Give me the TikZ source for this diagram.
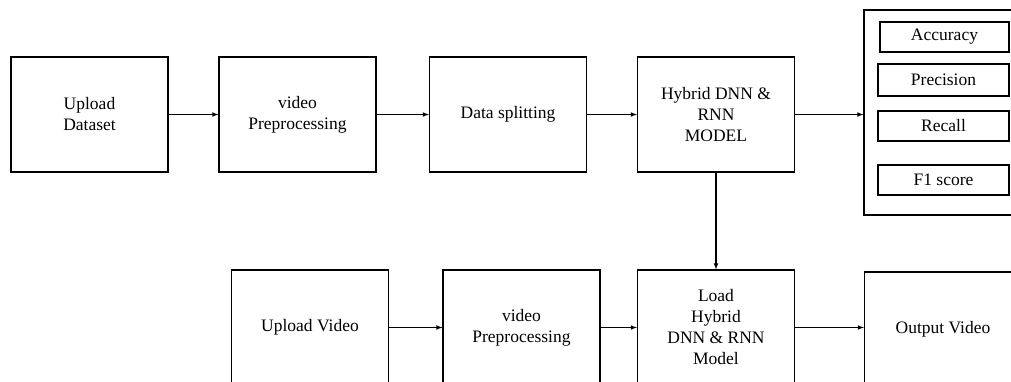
\documentclass[tikz,border=0pt]{standalone}
\usepackage{fontspec}
\setmainfont{Liberation Serif}
\usetikzlibrary{positioning,arrows}

\begin{document}
\begin{tikzpicture}[x = 1pt, y = -1pt, >=latex,
  stage/.style = {draw, line width = 1.1pt, align = center, inner sep = 0pt,
    minimum width = 157pt, minimum height = 115pt, font = \fontsize{17.5}{21}\selectfont},
  metric/.style = {draw, line width = 1.1pt, inner sep = 0pt,
    minimum width = 131pt, minimum height = 30pt, font = \fontsize{17.5}{21}\selectfont},
  flow/.style = {->, line width = 1.1pt}]
\clip (0,0) rectangle (1011,381);
% training row
\node[stage] (dataset) at (89.5,114.5) {Upload\\Dataset};
\node[stage] (prep_train) at (297.5,114.5) {video\\Preprocessing};
\node[stage] (split) at (508,114.5) {Data splitting};
\node[stage] (hybrid) at (716,114.5) {Hybrid DNN \&\\RNN\\MODEL};
% evaluation measures
\node[draw, line width = 1.1pt, minimum width = 166pt, minimum height = 205pt] (measures) at (947,112.5) {};
\node[metric, minimum width = 129pt] (acc) at (944.5,37) {Accuracy};
\node[metric, minimum height = 32pt] (prec) at (943.5,80) {Precision};
\node[metric] (rec) at (943.5,126) {Recall};
\node[metric] (fscore) at (943.5,180) {F1 score};
% testing row
\node[stage] (upvideo) at (310,327.5) {Upload Video};
\node[stage] (prep_test) at (521.5,327.5) {video\\Preprocessing};
\node[stage] (load) at (716,327.5) {Load\\Hybrid\\DNN \& RNN\\Model};
\node[stage] (outvideo) at (943,329.5) {Output Video};
\draw[flow] (dataset) -- (prep_train);
\draw[flow] (prep_train) -- (split);
\draw[flow] (split) -- (hybrid);
\draw[flow] (hybrid.east) -- (hybrid.east -| measures.west);
\draw[flow] (hybrid) -- (load);
\draw[flow] (upvideo) -- (prep_test);
\draw[flow] (prep_test) -- (load);
\draw[flow] (load.east) -- (load.east -| outvideo.west);
\end{tikzpicture}
\end{document}
